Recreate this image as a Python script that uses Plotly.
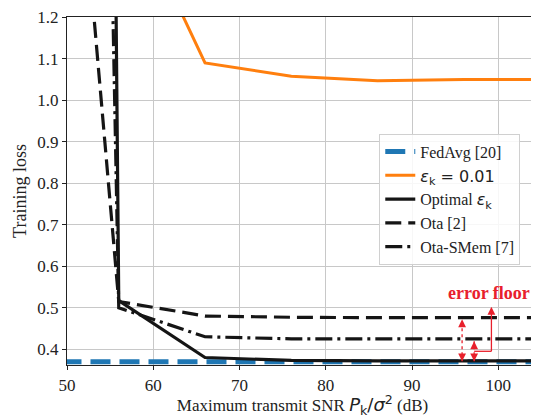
import plotly.graph_objects as go

snr = [46, 56, 66, 76, 86, 96, 106]
fedavg = [0.370, 0.370, 0.370, 0.370, 0.370, 0.370, 0.370]
eps001 = [1.53, 1.53, 1.09, 1.058, 1.047, 1.050, 1.050]
optimal = [23.0, 0.517, 0.380, 0.373, 0.372, 0.372, 0.372]
ota = [2.9, 0.515, 0.480, 0.477, 0.476, 0.476, 0.476]
ota_smem = [11.0, 0.500, 0.430, 0.425, 0.425, 0.425, 0.425]

names = ["FedAvg [20]",
         "<span style='font-family:DejaVu Sans'><i>ε</i><sub>k</sub> = 0.01</span>",
         "Optimal <span style='font-family:DejaVu Sans'><i>ε</i><sub>k</sub></span>",
         "Ota [2]", "Ota-SMem [7]"]

SERIF = "Liberation Serif"
RED = "#e8202c"

fig = go.Figure()
fig.add_trace(go.Scatter(x=snr, y=fedavg, mode="lines", name=names[0],
                         line=dict(color="#1f77b4", width=5, dash="20px,9px")))
fig.add_trace(go.Scatter(x=snr[1:], y=eps001[1:], mode="lines", name=names[1],
                         line=dict(color="#ff7f0e", width=3)))
fig.add_trace(go.Scatter(x=snr, y=optimal, mode="lines", name=names[2],
                         line=dict(color="#151515", width=3.2)))
fig.add_trace(go.Scatter(x=snr, y=ota, mode="lines", name=names[3],
                         line=dict(color="#151515", width=3.2, dash="16px,7px")))
fig.add_trace(go.Scatter(x=snr, y=ota_smem, mode="lines", name=names[4],
                         line=dict(color="#151515", width=3.2, dash="17px,5px,3px,5px")))

# error floor annotation
i96 = snr.index(96)
xa1 = snr[i96] - 0.2
xa2 = snr[i96] + 1.2
xa3 = snr[i96] + 3.2
ytop1 = ota[i96] - 0.004
ybot = optimal[i96] - 0.001
ytop2 = ota_smem[i96] - 0.006
ymid2 = (ytop2 + ybot) / 2

shapes = [
    dict(type="line", x0=xa1, x1=xa1, y0=ybot, y1=ytop1, xref="x", yref="y",
         line=dict(color=RED, width=1.3, dash="dot")),
    dict(type="line", x0=xa2, x1=xa2, y0=ybot, y1=ytop2, xref="x", yref="y",
         line=dict(color=RED, width=1.3, dash="dot")),
    dict(type="line", x0=xa2, x1=xa3, y0=ymid2, y1=ymid2, xref="x", yref="y",
         line=dict(color=RED, width=1.3)),
    dict(type="line", x0=xa3, x1=xa3, y0=ymid2, y1=0.5, xref="x", yref="y",
         line=dict(color=RED, width=1.3)),
]

def head(x, y, ay):
    return dict(x=x, y=y, xref="x", yref="y", ax=0, ay=ay, axref="pixel", ayref="pixel",
                showarrow=True, arrowhead=2, arrowsize=1.2, arrowwidth=1.3,
                arrowcolor=RED, text="")

annotations = [
    head(xa1, ytop1, 6), head(xa1, ybot, -6),
    head(xa2, ytop2, 6), head(xa2, ybot, -6),
    head(xa3, 0.502, 6),
    dict(x=98.9, y=0.535, xref="x", yref="y", xanchor="center", text="<b>error floor</b>",
         showarrow=False, font=dict(family=SERIF, size=18, color=RED)),
]

tickfont = dict(family=SERIF, size=17, color="#222")
xtitle = ("Maximum transmit SNR <span style='font-family:DejaVu Sans;font-size:18px'>"
          "<i>P</i><sub>k</sub>/<i>σ</i><sup>2</sup></span> (dB)")

# the page body has an 8px margin, so the figure is drawn 8px smaller
fig.update_layout(
    width=531, height=410,
    margin=dict(l=59, r=0, t=5, b=53),
    plot_bgcolor="white", paper_bgcolor="white",
    font=dict(family=SERIF, size=17, color="#222"),
    shapes=shapes, annotations=annotations,
    showlegend=True,
    legend=dict(x=0.663, y=0.665, xanchor="left", yanchor="top",
                bgcolor="rgba(255,255,255,0.85)", bordercolor="#d0d0d0", borderwidth=1,
                font=dict(family=SERIF, size=16, color="#222"),
                tracegroupgap=0, itemwidth=30),
    xaxis=dict(range=[50, 104.6], tickvals=[50, 60, 70, 80, 90, 100],
               showgrid=True, gridcolor="#c8c8c8", gridwidth=1,
               showline=True, linecolor="#222", linewidth=1.2, mirror=True,
               ticks="outside", ticklen=4, tickcolor="#222", zeroline=False,
               tickfont=tickfont, ticklabeloverflow="allow",
               title=dict(text=xtitle, standoff=4, font=dict(family=SERIF, size=17))),
    yaxis=dict(range=[0.362, 1.2005], tickvals=[0.4, 0.5, 0.6, 0.7, 0.8, 0.9, 1.0, 1.1, 1.2],
               ticktext=["0.4", "0.5", "0.6", "0.7", "0.8", "0.9", "1.0", "1.1", "1.2"],
               showgrid=True, gridcolor="#c8c8c8", gridwidth=1,
               showline=True, linecolor="#222", linewidth=1.2, mirror=True,
               ticks="outside", ticklen=4, tickcolor="#222", zeroline=False,
               tickfont=tickfont, ticklabeloverflow="allow",
               title=dict(text="Training loss", standoff=5, font=dict(family=SERIF, size=18))),
)

fig.write_html("out.html")
